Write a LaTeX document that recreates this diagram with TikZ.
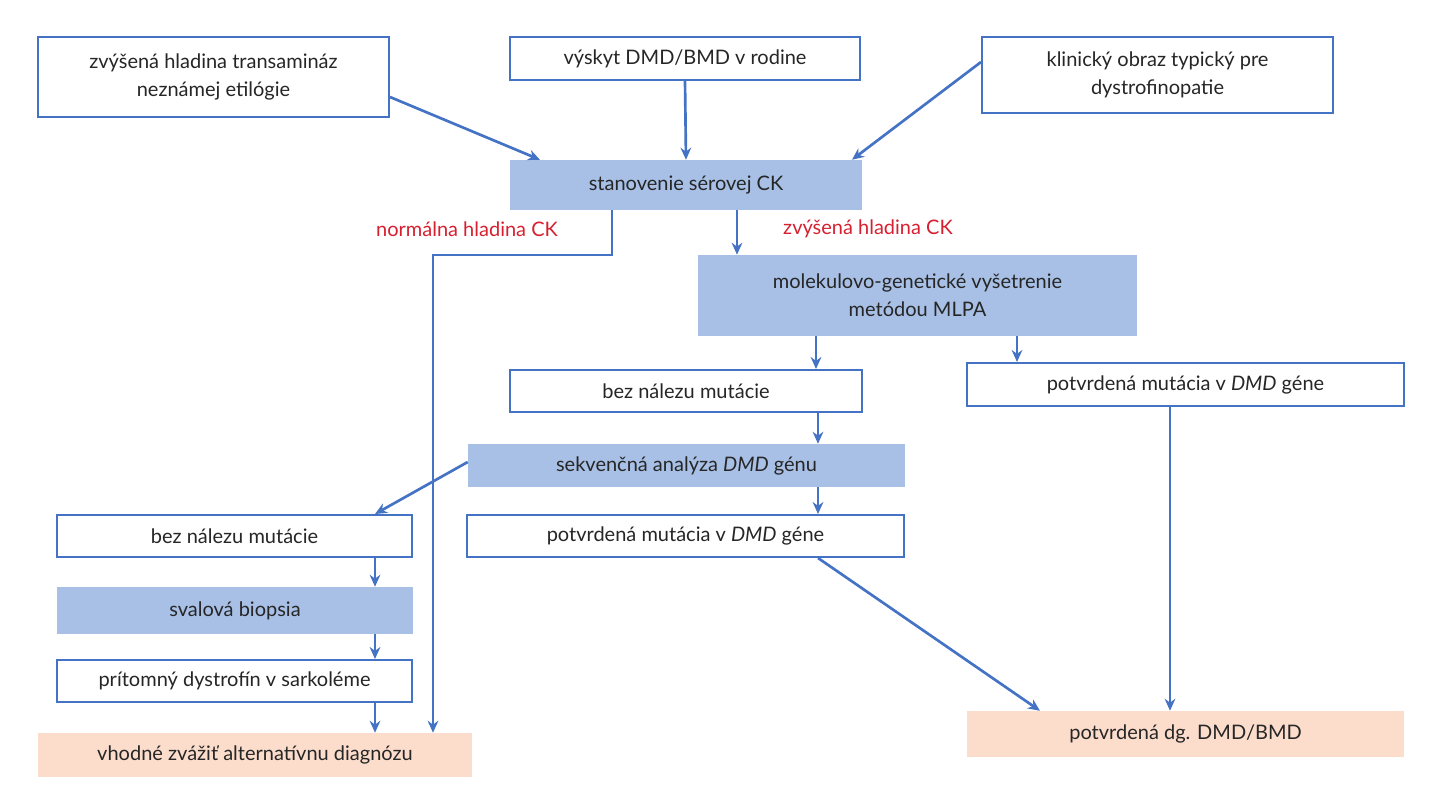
\documentclass[tikz,border=0pt]{standalone}
\usepackage{fontspec}
\setmainfont{Lato}
\usetikzlibrary{arrows.meta}
\definecolor{frame}{RGB}{68,114,196}
\definecolor{boxfill}{RGB}{168,192,230}
\definecolor{peach}{RGB}{252,221,204}
\definecolor{note}{RGB}{214,32,48}
\tikzset{
  box/.style={draw=frame, line width=1.5pt, fill=white, inner sep=0pt, align=center, font=\fontsize{15}{21}\selectfont, text=black!85},
  fillbox/.style={fill=boxfill, inner sep=0pt, align=center, font=\fontsize{15}{21}\selectfont, text=black!85},
  endbox/.style={fill=peach, inner sep=0pt, align=center, font=\fontsize{15}{21}\selectfont, text=black!85},
  arr/.style={draw=frame, line width=2pt, -{Stealth[length=9pt,width=8pt]}},
  lab/.style={text=note, font=\fontsize{15}{18}\selectfont}
}
\begin{document}
\begin{tikzpicture}[x=0.75pt,y=0.75pt,yscale=-1,xscale=1]
\useasboundingbox (0,0) rectangle (1437,800);

% top row
\node[box, minimum width=351*0.75pt, minimum height=80*0.75pt] (trans) at (213.5,77) {zvýšená hladina transamináz\\neznámej etilógie};
\node[box, minimum width=350*0.75pt, minimum height=43*0.75pt] (rodina) at (685,58.5) {výskyt DMD/BMD v rodine};
\node[box, minimum width=351*0.75pt, minimum height=76*0.75pt] (klin) at (1157.5,75) {klinický obraz typický pre\\dystrofinopatie};

% CK
\node[fillbox, minimum width=352*0.75pt, minimum height=50*0.75pt] (ck) at (686,185) {stanovenie sérovej CK};
\node[lab] (norm) at (467,229) {normálna hladina CK};
\node[lab] (zvys) at (868,229) {zvýšená hladina CK};

% genetics
\node[fillbox, minimum width=439*0.75pt, minimum height=81*0.75pt] (mlpa) at (917.5,295.5) {molekulovo-genetické vyšetrenie\\metódou MLPA};
\node[box, minimum width=352*0.75pt, minimum height=42*0.75pt] (bez1) at (686,391) {bez nálezu mutácie};
\node[box, minimum width=437*0.75pt, minimum height=43*0.75pt] (potv1) at (1185.5,384.5) {potvrdená mutácia v \textit{DMD} géne};
\node[fillbox, minimum width=437*0.75pt, minimum height=43*0.75pt] (sekv) at (686.5,465.5) {sekvenčná analýza \textit{DMD} génu};
\node[box, minimum width=355*0.75pt, minimum height=42*0.75pt] (bez2) at (234.5,536) {bez nálezu mutácie};
\node[box, minimum width=437*0.75pt, minimum height=42*0.75pt] (potv2) at (685.5,536) {potvrdená mutácia v \textit{DMD} géne};

% biopsy
\node[fillbox, minimum width=356*0.75pt, minimum height=47*0.75pt] (biop) at (235,610.5) {svalová biopsia};
\node[box, minimum width=355*0.75pt, minimum height=42*0.75pt] (dystr) at (234.5,681) {prítomný dystrofín v sarkoléme};

% results
\node[endbox, minimum width=434*0.75pt, minimum height=44*0.75pt] (alt) at (255,755) {vhodné zvážiť alternatívnu diagnózu};
\node[endbox, minimum width=437*0.75pt, minimum height=46*0.75pt] (dg) at (1185.5,734) {potvrdená dg. DMD/BMD};

% connectors
\coordinate (turn) at (612,255);
\draw[arr] (trans.east |- 0,97) -- (ck.north west -| 540,0);
\draw[arr] (rodina.south) -- (ck.north);
\draw[arr] (klin.west |- 0,62) -- (ck.north east -| 852,0);
\draw[arr] (ck.south -| turn) -- (turn) -- (turn -| 433,0) -- (alt.north -| 433,0);
\draw[arr] (ck.south -| 737,0) -- (mlpa.north -| 737,0);
\draw[arr] (mlpa.south -| 816,0) -- (bez1.north -| 816,0);
\draw[arr] (mlpa.south -| 1017,0) -- (potv1.north -| 1017,0);
\draw[arr] (bez1.south -| 818,0) -- (sekv.north -| 818,0);
\draw[arr] (sekv.west |- 0,462) -- (bez2.north -| 375,0);
\draw[arr] (sekv.south -| 818,0) -- (potv2.north -| 818,0);
\draw[arr] (bez2.south -| 375,0) -- (biop.north -| 375,0);
\draw[arr] (biop.south -| 375,0) -- (dystr.north -| 375,0);
\draw[arr] (dystr.south -| 375,0) -- (alt.north -| 375,0);
\draw[arr] (potv2.south -| 818,0) -- (dg.north west -| 1040,0);
\draw[arr] (potv1.south -| 1170,0) -- (dg.north -| 1170,0);
\end{tikzpicture}
\end{document}
